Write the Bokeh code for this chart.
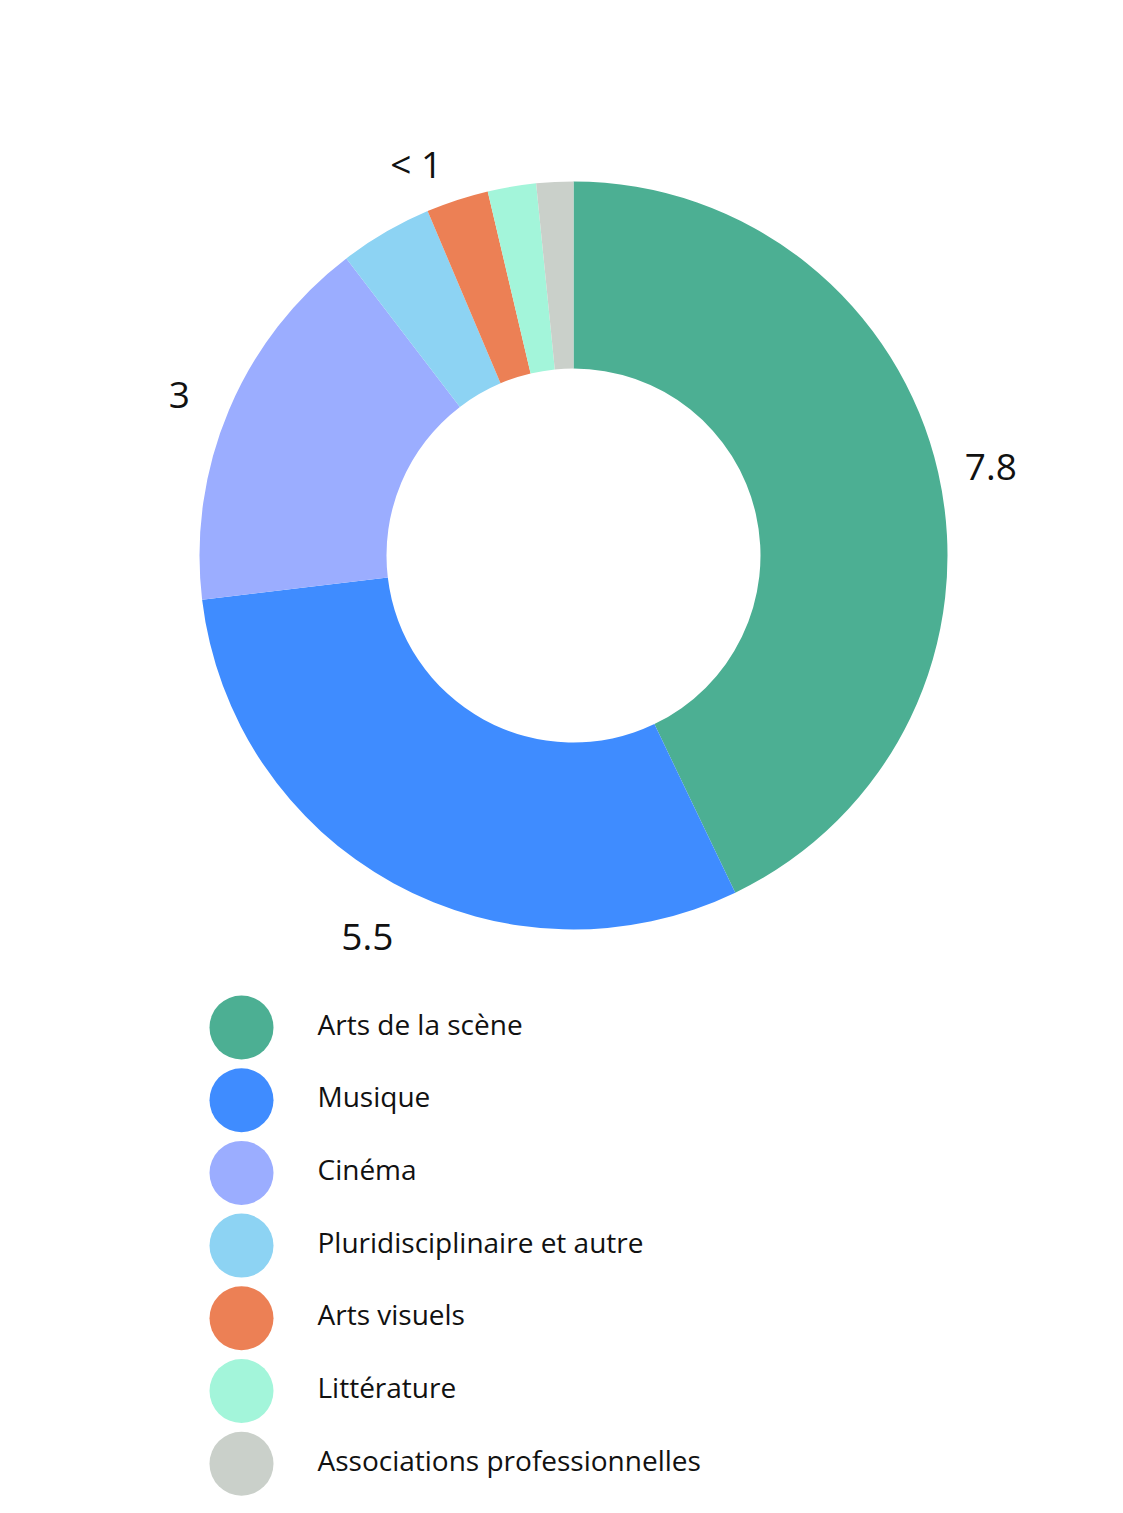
import math
from bokeh.plotting import figure
from bokeh.models import Range1d, ColumnDataSource
from bokeh.core.properties import value
from bokeh.embed import file_html
from bokeh.resources import INLINE

categories = ["Arts de la scène", "Musique", "Cinéma", "Pluridisciplinaire et autre",
              "Arts visuels", "Littérature", "Associations professionnelles"]
values = [7.8, 5.5, 3.0, 0.73, 0.49, 0.38, 0.29]
colors = ["#4CAF93", "#3F8CFF", "#9BADFF", "#8DD3F3", "#EC8055", "#A3F5DA", "#CAD0CA"]
label_texts = ["7.8", "5.5", "3", "< 1"]
label_groups = [[0], [1], [2], [3, 4, 5]]

W, H = 1107, 1497
CX, CY = 573, 942
R_OUT, R_IN = 374, 187
R_LAB = 428
FONT = "Open Sans"

p = figure(width=W, height=H, output_backend="svg", toolbar_location=None,
           x_range=Range1d(0, W), y_range=Range1d(0, H), min_border=0)
p.axis.visible = False
p.grid.visible = False
p.outline_line_color = None
p.background_fill_color = "white"
p.border_fill_color = "white"

total = sum(values)
cum = [0.0]
for v in values:
    cum.append(cum[-1] + v)
starts = [math.pi / 2 - 2 * math.pi * cum[i] / total for i in range(len(values))]
ends = [math.pi / 2 - 2 * math.pi * cum[i + 1] / total for i in range(len(values))]

src = ColumnDataSource(dict(start=starts, end=ends, color=colors,
                            x=[CX] * len(values), y=[CY] * len(values)))
p.annular_wedge(x="x", y="y", inner_radius=R_IN, outer_radius=R_OUT,
                start_angle="start", end_angle="end", direction="clock",
                fill_color="color", line_color=None, source=src)

lx, ly = [], []
for grp in label_groups:
    a0 = cum[grp[0]]
    a1 = cum[grp[-1] + 1]
    mid = math.pi / 2 - 2 * math.pi * (a0 + a1) / 2 / total
    lx.append(CX + R_LAB * math.cos(mid))
    ly.append(CY + R_LAB * math.sin(mid))
p.text(x=lx, y=ly, text=label_texts, text_font=value(FONT), text_font_size="37px",
       text_align="center", text_baseline="middle", text_color="#111111",
       y_offset=6)

# legend
LEG_X, LEG_TOP, LEG_STEP = 241, 470, 72.7
ys = [LEG_TOP - i * LEG_STEP for i in range(len(categories))]
p.scatter(x=[LEG_X] * len(categories), y=ys, size=64, marker="circle",
          fill_color=colors, line_color=None)
p.text(x=[LEG_X + 76] * len(categories), y=ys, text=categories, text_font=value(FONT),
       text_font_size="28px", text_align="left", text_baseline="middle",
       text_color="#111111", y_offset=-4)

open("out.html", "w").write(file_html(p, INLINE))
